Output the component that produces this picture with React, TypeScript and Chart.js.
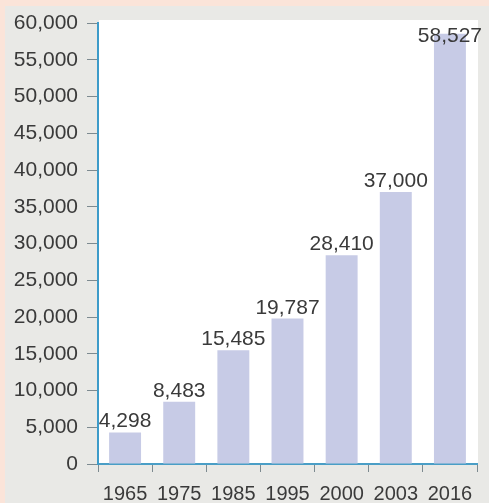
import React, { useEffect, useRef } from "react";
import { Chart, registerables } from "chart.js";

Chart.register(...registerables);

const categories = ["1965", "1975", "1985", "1995", "2000", "2003", "2016"];
const values = [4298, 8483, 15485, 19787, 28410, 37000, 58527];
const yTicks = [0, 5000, 10000, 15000, 20000, 25000, 30000, 35000, 40000, 45000, 50000, 55000, 60000];

const FONT = "'Liberation Sans', Arial, Helvetica, sans-serif";
const TEXT = "#3a3a3a";

const backgroundPlugin = {
  id: "bgPanels",
  beforeDraw(chart: any) {
    const { ctx, chartArea, width, height } = chart;
    ctx.save();
    ctx.fillStyle = "#fbe4d9";
    ctx.fillRect(0, 0, width, height);
    ctx.fillStyle = "#e9e9e6";
    ctx.fillRect(5, 6, width - 5, height - 6);
    ctx.fillStyle = "#ffffff";
    ctx.fillRect(chartArea.left + 1, chartArea.top - 3, chartArea.right - chartArea.left, chartArea.bottom - chartArea.top + 3);
    ctx.restore();
  },
};

const valueLabelPlugin = {
  id: "valueLabels",
  afterDatasetsDraw(chart: any) {
    const { ctx, chartArea } = chart;
    const meta = chart.getDatasetMeta(0);
    ctx.save();
    ctx.font = `21px ${FONT}`;
    ctx.fillStyle = TEXT;
    ctx.textAlign = "center";
    ctx.textBaseline = "alphabetic";
    meta.data.forEach((bar: any, i: number) => {
      const v = chart.data.datasets[0].data[i] as number;
      const y = Math.max(bar.y - 5, chartArea.top + 19);
      ctx.fillText(v.toLocaleString("en-US"), bar.x, y);
    });
    ctx.restore();
  },
};

export default function App() {
  const ref = useRef<HTMLCanvasElement | null>(null);

  useEffect(() => {
    if (!ref.current) return;
    const chart = new Chart(ref.current, {
      type: "bar",
      data: {
        labels: categories,
        datasets: [
          {
            data: values,
            backgroundColor: "#c7cbe6",
            borderWidth: 0,
            barPercentage: 0.59,
            categoryPercentage: 1,
          },
        ],
      },
      options: {
        animation: false,
        responsive: false,
        maintainAspectRatio: false,
        devicePixelRatio: 1,
        layout: { padding: { top: 23, right: 12, bottom: 0, left: 0 } },
        plugins: {
          legend: { display: false },
          tooltip: { enabled: false },
        },
        scales: {
          x: {
            grid: {
              display: true,
              drawOnChartArea: false,
              drawTicks: true,
              tickLength: 8,
              tickColor: "#7d8a90",
              offset: true,
            },
            border: { display: true, color: "#4a9ec6", width: 2 },
            ticks: {
              color: TEXT,
              font: { family: FONT, size: 20 },
              padding: 10,
              maxRotation: 0,
              autoSkip: false,
            },
            afterFit(scale: any) {
              scale.height = 39;
            },
          },
          y: {
            min: 0,
            max: 60000,
            afterBuildTicks(scale: any) {
              scale.ticks = yTicks.map((v) => ({ value: v }));
            },
            grid: {
              display: true,
              drawOnChartArea: false,
              drawTicks: true,
              tickLength: 11,
              tickColor: "#7d8a90",
            },
            border: { display: true, color: "#3d9bc9", width: 2 },
            ticks: {
              color: TEXT,
              font: { family: FONT, size: 21 },
              padding: 9,
              callback: (v: any) => Number(v).toLocaleString("en-US"),
            },
            afterFit(scale: any) {
              scale.width = 98;
            },
          },
        },
      },
      plugins: [backgroundPlugin, valueLabelPlugin],
    });
    return () => chart.destroy();
  }, []);

  return (
    <div style={{ position: "absolute", left: 0, top: 0, width: 489, height: 503 }}>
      <canvas ref={ref} width={489} height={503} style={{ display: "block", width: 489, height: 503 }} />
    </div>
  );
}
